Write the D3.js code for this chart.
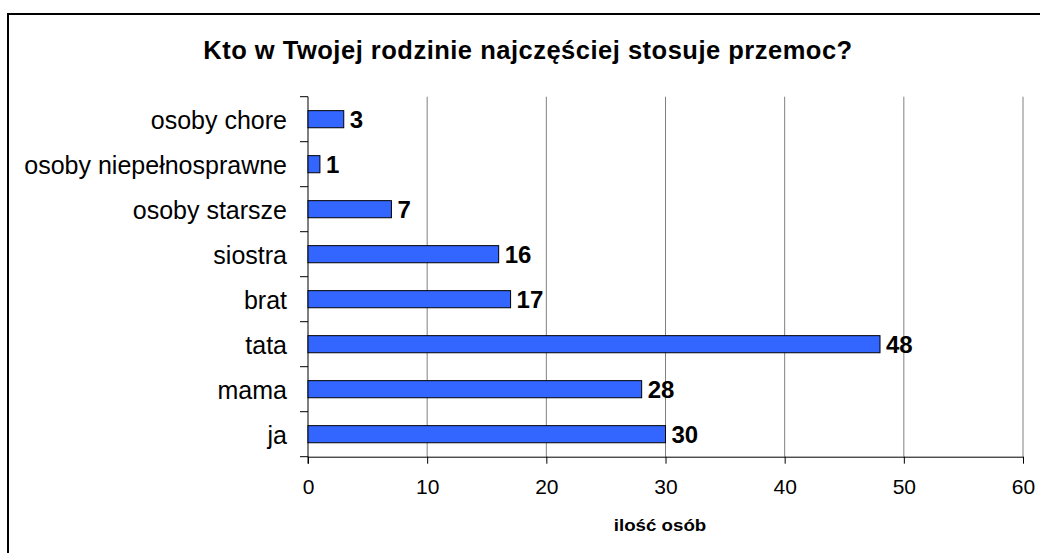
<!DOCTYPE html>
<html>
<head>
<meta charset="utf-8">
<script src="https://cdn.jsdelivr.net/npm/d3@7"></script>
<style>
  body { margin: 0; background: #fff; }
  svg { display: block; font-family: "Liberation Sans", Arial, sans-serif; }
</style>
</head>
<body>
<div class="chart"></div>
<script>
// data
const categories = ["osoby chore", "osoby niepełnosprawne", "osoby starsze", "siostra", "brat", "tata", "mama", "ja"];
const values = [3, 1, 7, 16, 17, 48, 28, 30];
const xTicks = [0, 10, 20, 30, 40, 50, 60];
const title = "Kto w Twojej rodzinie najczęściej stosuje przemoc?";
const xTitle = "ilość osób";

const data = categories.map((c, i) => ({cat: c, val: values[i]}));

let outerWidth = 1040, outerHeight = 553;
let plot = {left: 308, right: 1023, top: 96.7, bottom: 456.7};

let svg = d3.select('.chart').append('svg')
  .attr('width', outerWidth)
  .attr('height', outerHeight);

// frame (runs off the right and bottom edge)
svg.append('rect')
  .attr('x', 8).attr('y', 14)
  .attr('width', 1100).attr('height', 600)
  .attr('fill', 'none')
  .attr('stroke', '#000')
  .attr('stroke-width', 2);

svg.append('text')
  .attr('x', 528).attr('y', 58.5)
  .attr('text-anchor', 'middle')
  .attr('font-size', 25.5)
  .attr('font-weight', 'bold')
  .attr('letter-spacing', 0.5)
  .text(title);

const xScale = d3.scaleLinear()
  .domain([0, 60])
  .range([plot.left, plot.right]);

const yScale = d3.scaleBand()
  .domain(categories)
  .range([plot.top, plot.bottom])
  .paddingInner(0.62)
  .paddingOuter(0.31);

const step = yScale.step();

// gridlines
svg.append('g')
  .selectAll('line')
  .data(xTicks.slice(1))
  .join('line')
  .attr('x1', d => xScale(d)).attr('x2', d => xScale(d))
  .attr('y1', plot.top).attr('y2', plot.bottom)
  .attr('stroke', '#808080')
  .attr('stroke-width', 1);

// x axis
const xAxis = svg.append('g')
  .attr('transform', `translate(0, ${plot.bottom})`)
  .call(d3.axisBottom(xScale).tickValues(xTicks).tickSize(7).tickPadding(15).tickSizeOuter(0));
xAxis.select('.domain').attr('stroke', '#000');
xAxis.selectAll('.tick line').attr('stroke', '#000');
xAxis.selectAll('.tick text')
  .attr('font-size', 21)
  .attr('font-family', '"Liberation Sans", Arial, sans-serif')
  .attr('fill', '#000');

// y axis: line and ticks at category boundaries
svg.append('line')
  .attr('x1', plot.left).attr('x2', plot.left)
  .attr('y1', plot.top).attr('y2', plot.bottom + 7)
  .attr('stroke', '#000');
svg.append('g')
  .selectAll('line')
  .data(d3.range(categories.length + 1))
  .join('line')
  .attr('x1', plot.left - 8).attr('x2', plot.left)
  .attr('y1', i => plot.top + i * step).attr('y2', i => plot.top + i * step)
  .attr('stroke', '#000');

svg.append('g')
  .selectAll('text')
  .data(categories)
  .join('text')
  .attr('x', 287)
  .attr('y', d => yScale(d) + yScale.bandwidth() / 2)
  .attr('dy', '0.4em')
  .attr('text-anchor', 'end')
  .attr('font-size', 25)
  .text(d => d);

// bars
svg.append('g')
  .selectAll('rect')
  .data(data)
  .join('rect')
  .attr('x', xScale(0))
  .attr('y', d => yScale(d.cat))
  .attr('width', d => xScale(d.val) - xScale(0))
  .attr('height', yScale.bandwidth())
  .attr('fill', '#3366FF')
  .attr('stroke', '#000')
  .attr('stroke-width', 1);

// value labels
svg.append('g')
  .selectAll('text')
  .data(data)
  .join('text')
  .attr('x', d => xScale(d.val) + 6)
  .attr('y', d => yScale(d.cat) + yScale.bandwidth() / 2)
  .attr('dy', '0.37em')
  .attr('font-size', 24)
  .attr('font-weight', 'bold')
  .text(d => d.val);

svg.append('text')
  .attr('transform', 'translate(660, 531) scale(1.1, 1)')
  .attr('text-anchor', 'middle')
  .attr('font-size', 17)
  .attr('font-weight', 'bold')
  .text(xTitle);
</script>
</body>
</html>
